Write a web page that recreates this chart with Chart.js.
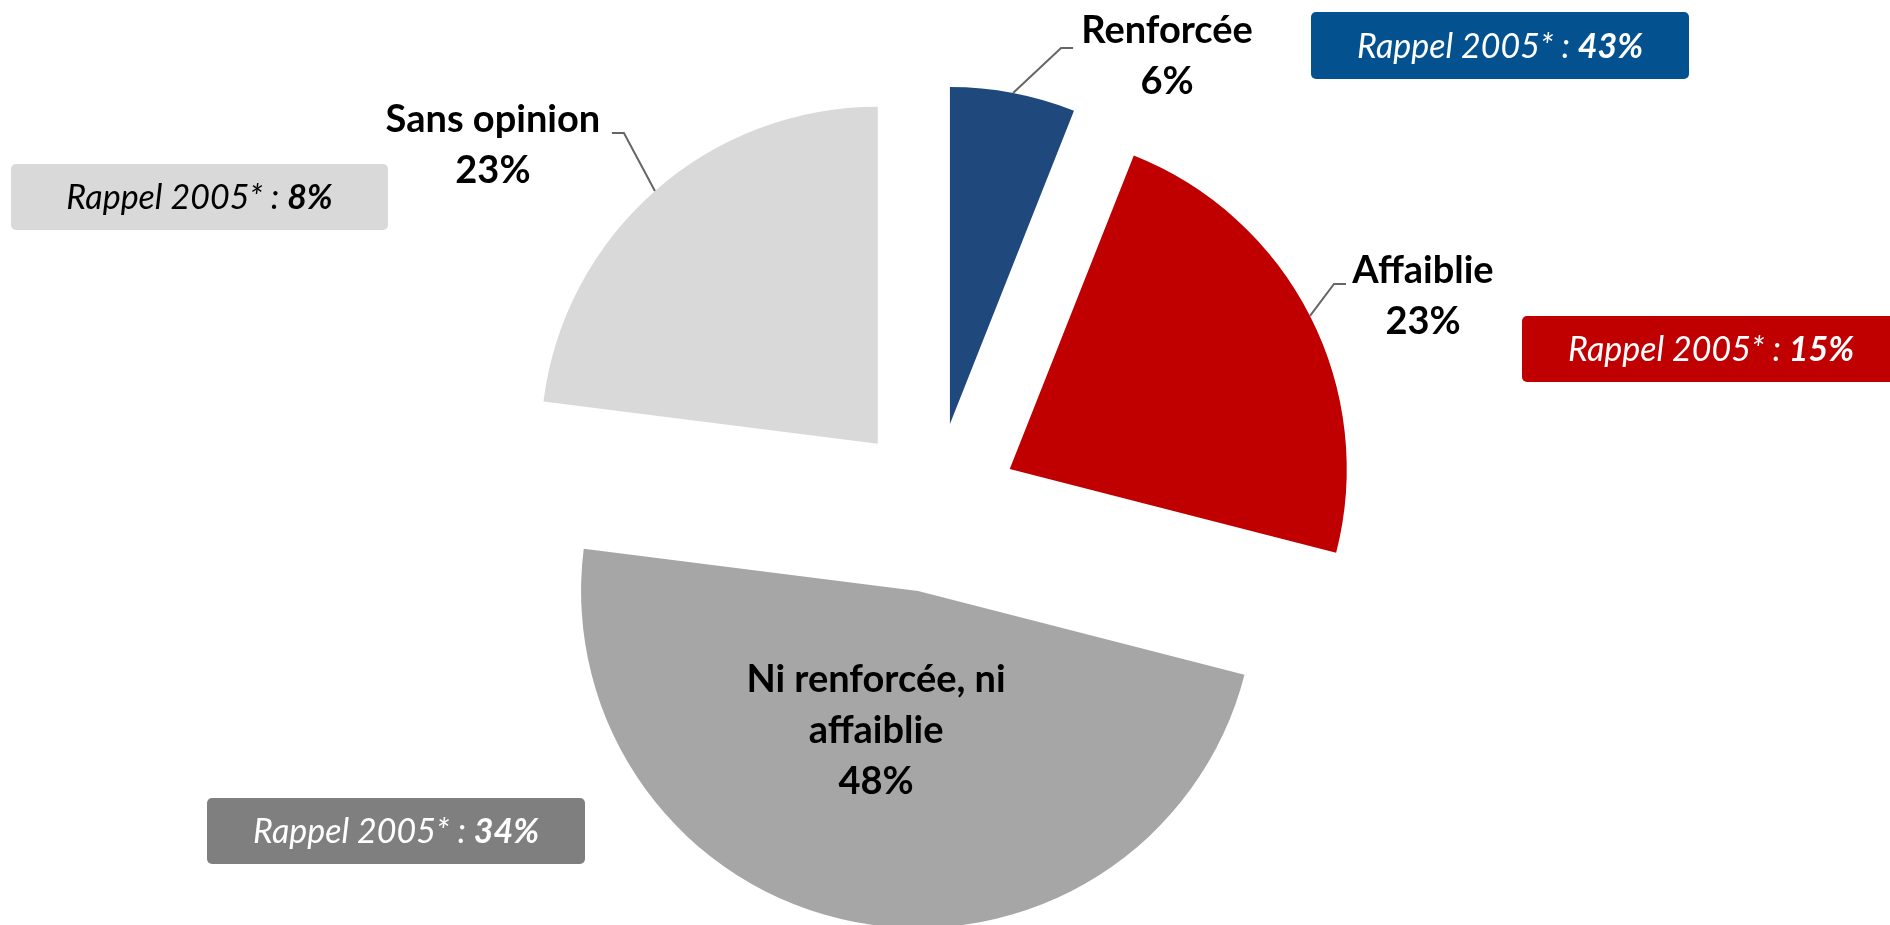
<!DOCTYPE html>
<html lang="fr">
<head>
<meta charset="utf-8">
<title>Renforcée / affaiblie</title>
<script src="https://cdn.jsdelivr.net/npm/chart.js@4.4.1/dist/chart.umd.min.js"></script>
<style>
  html, body { margin: 0; padding: 0; background: #fff; }
  #wrap { width: 1890px; height: 925px; position: relative; overflow: hidden; }
</style>
</head>
<body>
<div id="wrap"><canvas id="pieChart"></canvas></div>
<script>
// Data
const categories = [['Renforcée'], ['Affaiblie'], ['Ni renforcée, ni', 'affaiblie'], ['Sans opinion']];
const values = [6, 23, 48, 23];
const rappel2005 = [43, 15, 34, 8];

// Styles
const sliceColors = ['#1F497D', '#C00000', '#A6A6A6', '#D9D9D9'];
const rappelColors = ['#03528F', '#C00000', '#7F7F7F', '#D9D9D9'];
const rappelTextColors = ['#FFFFFF', '#FFFFFF', '#FFFFFF', '#000000'];
const FONT = 'Lato, "Open Sans", sans-serif';
const RADIUS = 337;
const EXPLODE = 85; // px each slice is pulled out of the centre

// label placement relative to the slice's outer edge at mid-angle (inside label: relative to slice apex)
const labelLayout = [
    { dx: 154, dy: -38, elbow: [48, -45], dir: 1 },
    { dx: 113, dy: -21, elbow: [24, -32], dir: 1 },
    { inside: true, dx: -42, dy: 138 },
    { dx: -162, dy: -47, elbow: [-31, -58], dir: -1 }
];
// "Rappel 2005" boxes
const rappelBoxes = [
    { x: 1311, y: 12, w: 378, h: 67 },
    { x: 1522, y: 316, w: 378, h: 66 },
    { x: 207, y: 798, w: 378, h: 66 },
    { x: 11, y: 164, w: 377, h: 66 }
];

// Pie where every slice is pulled out by the same distance (Chart.js' own offset also grows small arcs)
class ExplodedPieController extends Chart.PieController {
    draw() {
        const ctx = this.chart.ctx;
        const area = this.chart.chartArea;
        this._cachedMeta.data.forEach(arc => {
            if (arc.hidden) return;
            const mid = (arc.startAngle + arc.endAngle) / 2;
            ctx.save();
            ctx.translate(Math.cos(mid) * EXPLODE, Math.sin(mid) * EXPLODE);
            arc.draw(ctx, area);
            ctx.restore();
        });
    }
}
ExplodedPieController.id = 'explodedPie';
ExplodedPieController.defaults = Chart.PieController.defaults;
ExplodedPieController.overrides = Chart.PieController.overrides;
Chart.register(ExplodedPieController);

const sliceLabels = {
    id: 'sliceLabels',
    afterDatasetsDraw(chart) {
        const ctx = chart.ctx;
        const arcs = chart.getDatasetMeta(0).data;
        ctx.save();
        arcs.forEach((arc, i) => {
            const mid = (arc.startAngle + arc.endAngle) / 2;
            const px = arc.x + Math.cos(mid) * EXPLODE;
            const py = arc.y + Math.sin(mid) * EXPLODE;
            const ex = px + Math.cos(mid) * arc.outerRadius;
            const ey = py + Math.sin(mid) * arc.outerRadius;
            const lay = labelLayout[i];
            let lx, ly;
            if (lay.inside) {
                lx = px + lay.dx;
                ly = py + lay.dy;
            } else {
                lx = ex + lay.dx;
                ly = ey + lay.dy;
                const bx = ex + lay.elbow[0];
                const by = ey + lay.elbow[1];
                ctx.strokeStyle = '#666666';
                ctx.lineWidth = 2;
                ctx.beginPath();
                ctx.moveTo(ex, ey);
                ctx.lineTo(bx, by);
                ctx.lineTo(bx + 12 * lay.dir, by);
                ctx.stroke();
            }
            const lines = categories[i].concat([values[i] + '%']);
            const size = 38, lh = 51;
            ctx.font = '700 ' + size + 'px ' + FONT;
            ctx.fillStyle = '#000000';
            ctx.textAlign = 'center';
            ctx.textBaseline = 'alphabetic';
            lines.forEach((t, k) => {
                const cyLine = ly - (lines.length - 1) * lh / 2 + k * lh;
                ctx.fillText(t, lx, cyLine + size * 0.36);
            });
        });

        // Rappel 2005 boxes
        rappelBoxes.forEach((b, i) => {
            ctx.fillStyle = rappelColors[i];
            ctx.beginPath();
            ctx.roundRect(b.x, b.y, b.w, b.h, 5);
            ctx.fill();
            const size = 34;
            const a = 'Rappel 2005* : ';
            const c = rappel2005[i] + '%';
            ctx.font = 'italic 400 ' + size + 'px ' + FONT;
            const wa = ctx.measureText(a).width;
            ctx.font = 'italic 700 ' + size + 'px ' + FONT;
            const wc = ctx.measureText(c).width;
            const x0 = b.x + b.w / 2 - (wa + wc) / 2;
            const base = b.y + b.h / 2 + size * 0.36;
            ctx.textAlign = 'left';
            ctx.fillStyle = rappelTextColors[i];
            ctx.font = 'italic 400 ' + size + 'px ' + FONT;
            ctx.fillText(a, x0, base);
            ctx.font = 'italic 700 ' + size + 'px ' + FONT;
            ctx.fillText(c, x0 + wa, base);
        });
        ctx.restore();
    }
};

new Chart(document.getElementById('pieChart'), {
    type: 'explodedPie',
    data: {
        labels: categories.map(c => c.join(' ')),
        datasets: [{
            data: values,
            backgroundColor: sliceColors,
            borderWidth: 0,
            radius: RADIUS,
            hoverOffset: 0
        }]
    },
    options: {
        responsive: true,
        maintainAspectRatio: false,
        animation: false,
        events: [],
        layout: { padding: { top: 90, right: 22, bottom: 0, left: 0 } },
        plugins: {
            legend: { display: false },
            tooltip: { enabled: false }
        }
    },
    plugins: [sliceLabels]
});
</script>
</body>
</html>
